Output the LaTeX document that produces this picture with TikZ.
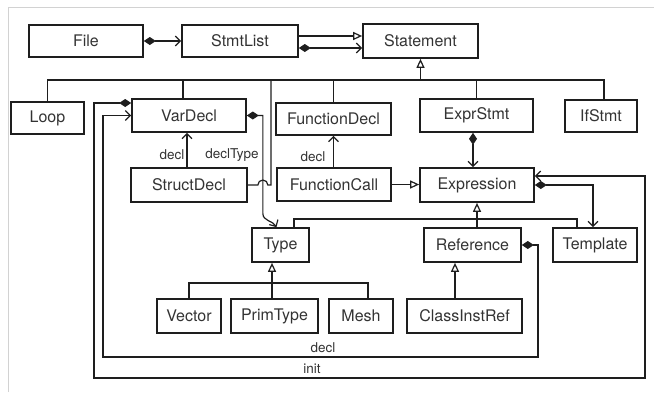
\documentclass[tikz,border=0pt]{standalone}
\usepackage{fontspec}
\setmainfont{TeX Gyre Heros}
\usetikzlibrary{arrows.meta}
\definecolor{ink}{HTML}{1E1E1E}
\definecolor{txt}{HTML}{333333}
\definecolor{framegray}{HTML}{D2D2D2}
\begin{document}
\begin{tikzpicture}[x=1pt,y=-1pt,
  box/.style={draw=ink, line width=1.7pt, inner sep=0pt, text=txt,
    font=\fontsize{16}{18}\selectfont},
  lbl/.style={text=txt, font=\fontsize{13.5}{15}\selectfont, inner sep=0pt},
  conn/.style={draw=ink, line width=1.2pt},
  inh/.style={-{Triangle[open, length=9pt, width=8pt]}},
  nav/.style={-{Straight Barb[length=5pt, width=10pt]}},
  compnav/.style={{Diamond[length=12pt, width=8pt]}-{Straight Barb[length=5pt, width=10pt]}},
]
\useasboundingbox (0,0) rectangle (654,392);
% thin frame
\draw[framegray, line width=1pt] (8,392) -- (8,7) -- (654,7);

% classes
\node[box, minimum width=114pt, minimum height=32pt] (File)         at (86,41)    {File};
\node[box, minimum width=116pt, minimum height=32pt] (StmtList)     at (240,41)   {StmtList};
\node[box, minimum width=115pt, minimum height=34pt] (Statement)    at (420.5,41) {Statement};
\node[box, minimum width=73pt,  minimum height=32pt] (Loop)         at (47.5,118) {Loop};
\node[box, minimum width=114pt, minimum height=33pt] (VarDecl)      at (189,115.5) {VarDecl};
\node[box, minimum width=115pt, minimum height=32pt] (FunctionDecl) at (333.5,119) {FunctionDecl};
\node[box, minimum width=113pt, minimum height=33pt] (ExprStmt)     at (476.5,115.5) {ExprStmt};
\node[box, minimum width=72pt,  minimum height=32pt] (IfStmt)       at (601,116)  {IfStmt};
\node[box, minimum width=116pt, minimum height=34pt] (StructDecl)   at (189,185)  {StructDecl};
\node[box, minimum width=114pt, minimum height=33pt] (FunctionCall) at (334,184.5) {FunctionCall};
\node[box, minimum width=114pt, minimum height=34pt] (Expression)   at (477,185)  {Expression};
\node[box, minimum width=57pt,  minimum height=34pt] (Type)         at (280.5,245) {Type};
\node[box, minimum width=97pt,  minimum height=34pt] (Reference)    at (472.5,245) {Reference};
\node[box, minimum width=84pt,  minimum height=34pt] (Template)     at (595,245)  {Template};
\node[box, minimum width=64pt,  minimum height=34pt] (Vector)       at (189,316)  {Vector};
\node[box, minimum width=87pt,  minimum height=34pt] (PrimType)     at (274.5,316) {PrimType};
\node[box, minimum width=64pt,  minimum height=34pt] (Mesh)         at (361,316)  {Mesh};
\node[box, minimum width=115pt, minimum height=34pt] (ClassInstRef) at (464.5,316) {ClassInstRef};

% helper coordinates for buses and stems
\coordinate (sbusL) at (47.5,80);
\coordinate (sbusR) at (604,80);
\coordinate (vdx)   at (183,0);
\coordinate (sdj)   at (271,185);
\coordinate (esx)   at (473,0);
\coordinate (ebus)  at (0,219);
\coordinate (tyx)   at (294,0);
\coordinate (tmx)   at (577,0);
\coordinate (tpx)   at (593,0);
\coordinate (pbus)  at (0,283);
\coordinate (ptx)   at (272,0);
\coordinate (msx)   at (368,0);
\coordinate (cix)   at (455,0);
\coordinate (initL) at (94,378);
\coordinate (initR) at (645,378);
\coordinate (declL) at (103,357);
\coordinate (declR) at (538,357);

% File / StmtList / Statement
\draw[conn, compnav] (File) -- (StmtList);
\draw[conn, inh] ([yshift=5pt]StmtList.east) -- ([yshift=5pt]Statement.west);
\draw[conn, compnav] ([yshift=-7pt]StmtList.east) -- ([yshift=-7pt]Statement.west);

% Statement hierarchy
\draw[conn, inh] (Statement.south |- sbusL) -- (Statement.south);
\draw[conn] (Loop.north) -- (sbusL) -- (sbusR) -- (sbusR |- IfStmt.north);
\draw[conn] (vdx |- sbusL) -- (vdx |- VarDecl.north);
\draw[conn] (FunctionDecl.north |- sbusL) -- (FunctionDecl.north);
\draw[conn] (ExprStmt.north |- sbusL) -- (ExprStmt.north);
\draw[conn] (StructDecl.east) -- ++(10,0)
  arc[start angle=180, end angle=360, radius=5] -- (sdj) -- (sdj |- sbusL);

% VarDecl / StructDecl
\draw[conn, nav] ([xshift=-2pt]StructDecl.north) -- ([xshift=-2pt]VarDecl.south);
\node[lbl] (lblSD) at (172,155) {decl};
\draw[conn, compnav] (VarDecl.east) -- ++(16,0) -- ++(0,98)
  to[out=-90, in=120] ([xshift=-4pt]Type.north);
\node[lbl] (lblDT) at (232,155) {declType};

% FunctionCall
\draw[conn, nav] (FunctionCall.north -| FunctionDecl.south) -- (FunctionDecl.south);
\node[lbl] (lblFC) at (313,157) {decl};
\draw[conn, inh] (FunctionCall.east) -- (FunctionCall.east -| Expression.west);

% ExprStmt -> Expression
\draw[conn, compnav] (esx |- ExprStmt.south) -- (esx |- Expression.north);

% Expression hierarchy
\draw[conn, inh] (Reference.north -| Expression.south) -- (Expression.south);
\draw[conn] (tyx |- Type.north) -- (tyx |- ebus) -- (tmx |- ebus) -- (tmx |- Template.north);

% Expression -> Template
\draw[conn, compnav] (Expression.east) -- (tpx |- Expression.east) -- (tpx |- Template.north);

% VarDecl init
\draw[conn, compnav] ([yshift=12.5pt]VarDecl.west) -| (initL) -- (initR)
  |- ([yshift=9pt]Expression.east);
\node[lbl] (lblInit) at (312,369) {init};

% Reference decl
\draw[conn, compnav] (Reference.east) -| (declR) -- (declL) |- (VarDecl.west);
\node[lbl] (lblRef) at (323,348) {decl};

% Type hierarchy
\draw[conn, inh] (ptx |- PrimType.north) -- (ptx |- Type.south);
\draw[conn] (Vector.north) -- (Vector.north |- pbus) -- (msx |- pbus) -- (msx |- Mesh.north);

% Reference hierarchy
\draw[conn, inh] (cix |- ClassInstRef.north) -- (cix |- Reference.south);
\end{tikzpicture}
\end{document}
